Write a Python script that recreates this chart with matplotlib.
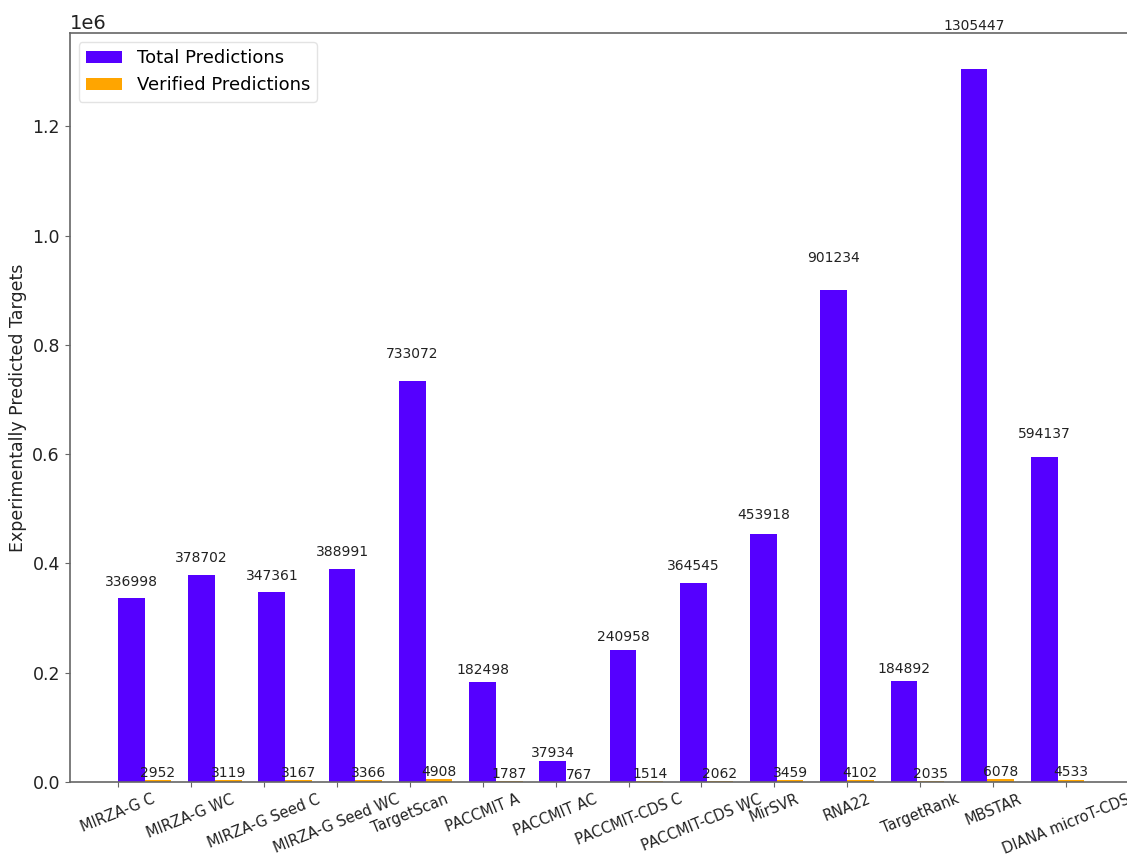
import numpy as np
import matplotlib
matplotlib.use("Agg")
import matplotlib.pyplot as plt

tools = ["MIRZA-G C", "MIRZA-G WC", "MIRZA-G Seed C", "MIRZA-G Seed WC",
         "TargetScan", "PACCMIT A", "PACCMIT AC", "PACCMIT-CDS C",
         "PACCMIT-CDS WC", "MirSVR", "RNA22", "TargetRank", "MBSTAR",
         "DIANA microT-CDS"]
total_predictions = [336998, 378702, 347361, 388991, 733072, 182498, 37934,
                     240958, 364545, 453918, 901234, 184892, 1305447, 594137]
verified_predictions = [2952, 3119, 3167, 3366, 4908, 1787, 767,
                        1514, 2062, 3459, 4102, 2035, 6078, 4533]

n = len(tools)
index = np.arange(n)
bar_width = 0.38

fig = plt.figure(figsize=(11.27, 8.57), dpi=100)
ax = fig.add_axes([69.7 / 1127, 75 / 857, 1063 / 1127, 749 / 857])

rects_total = ax.bar(index, total_predictions, bar_width, align="edge",
                     color="#5500ff", label="Total Predictions")
rects_verified = ax.bar(index + bar_width, verified_predictions, bar_width,
                        align="edge", color="#ffa500",
                        label="Verified Predictions")


def autolabel(rects):
    for rect in rects:
        height = rect.get_height()
        ax.text(rect.get_x() + rect.get_width() / 2.0, 1.05 * height,
                "%d" % int(height), ha="center", va="bottom",
                fontsize=10, color="#222222")


autolabel(rects_total)
autolabel(rects_verified)

ax.set_xticks(np.linspace(0, n - 0.5, n))
ax.set_xticklabels(tools, rotation=22, fontsize=10.5, color="#222222")
ax.tick_params(axis="y", labelsize=12.5, labelcolor="#222222")
ax.yaxis.get_offset_text().set_fontsize(14)
ax.set_ylabel("Experimentally Predicted Targets", fontsize=12.5,
              color="#222222")

for side in ("left", "bottom", "top", "right"):
    ax.spines[side].set_color("#666666")
    ax.spines[side].set_linewidth(1.2)
ax.tick_params(colors="#666666", which="both")
ax.tick_params(axis="both", labelcolor="#222222")

ax.legend(loc="upper left", fontsize=13, edgecolor="#dddddd")

fig.savefig("out.png", dpi=100)
